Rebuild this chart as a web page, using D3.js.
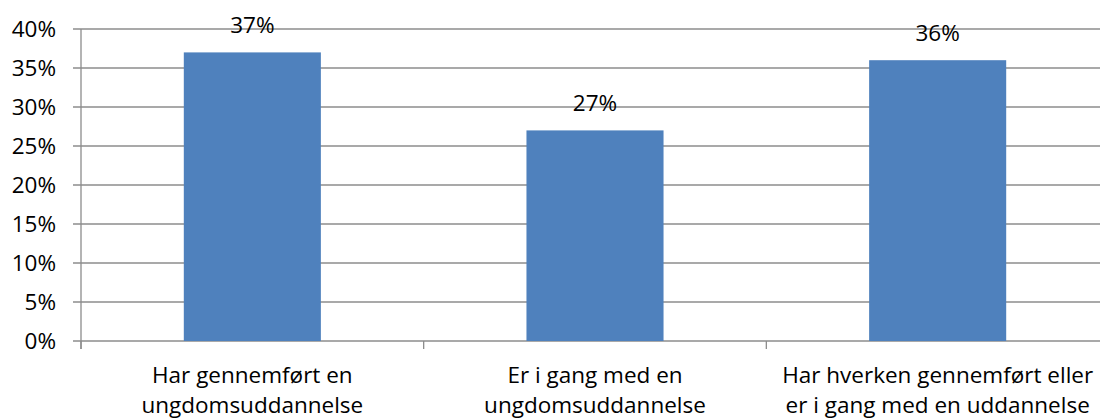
<!DOCTYPE html>
<html>
<head>
<meta charset="utf-8">
<script src="https://cdn.jsdelivr.net/npm/d3@7"></script>
<style>
body{margin:0;background:#fff;}
svg text{font-family:"Open Sans",sans-serif;fill:#000;}
</style>
</head>
<body>
<script>
//data
const categories=[["Har gennemført en","ungdomsuddannelse"],["Er i gang med en","ungdomsuddannelse"],["Har hverken gennemført eller","er i gang med en uddannelse"]]
const values=[0.37,0.27,0.36]
const yTicks=[0,0.05,0.1,0.15,0.2,0.25,0.3,0.35,0.4]

const w=1100, h=418
const mLeft=81, mRight=1109, mTop=29, mBottom=341
const fs="22.5px"

const svg=d3.select("body").append("svg").attr("width",w).attr("height",h)

const x=d3.scaleBand().domain(d3.range(categories.length)).range([mLeft,mRight]).paddingInner(0.6).paddingOuter(0.3)
const y=d3.scaleLinear().domain([0,0.4]).range([mBottom,mTop])
const fmt=d3.format(".0%")

//gridlines
svg.append("g").selectAll("line").data(yTicks).enter().append("line")
  .attr("x1",mLeft-8).attr("x2",w).attr("y1",d=>y(d)).attr("y2",d=>y(d))
  .attr("stroke","#8c8c8c").attr("stroke-width",1.3)

//y labels
svg.append("g").selectAll("text").data(yTicks).enter().append("text")
  .attr("x",56).attr("y",d=>y(d)+7.5).attr("text-anchor","end")
  .style("font-size",fs).text(d=>fmt(d))

//bars
svg.append("g").selectAll("rect").data(values).enter().append("rect")
  .attr("x",(d,i)=>x(i)).attr("width",x.bandwidth())
  .attr("y",d=>y(d)).attr("height",d=>mBottom-y(d))
  .attr("fill","#4f81bd")

//value labels
svg.append("g").selectAll("text").data(values).enter().append("text")
  .attr("x",(d,i)=>x(i)+x.bandwidth()/2).attr("y",d=>y(d)-19)
  .attr("text-anchor","middle").style("font-size",fs).text(d=>fmt(d))

//axes lines
svg.append("line").attr("x1",mLeft).attr("x2",mLeft).attr("y1",mTop).attr("y2",mBottom+8)
  .attr("stroke","#8c8c8c").attr("stroke-width",1.3)
const step=(mRight-mLeft)/categories.length
svg.append("g").selectAll("line").data(d3.range(categories.length+1)).enter().append("line")
  .attr("x1",i=>mLeft+i*step).attr("x2",i=>mLeft+i*step).attr("y1",mBottom).attr("y2",mBottom+8)
  .attr("stroke","#8c8c8c").attr("stroke-width",1.3)

//category labels
const cat=svg.append("g").selectAll("text").data(categories).enter().append("text")
  .attr("text-anchor","middle").style("font-size",fs)
cat.selectAll("tspan").data((d,i)=>d.map(t=>({t,i}))).enter().append("tspan")
  .attr("x",d=>x(d.i)+x.bandwidth()/2).attr("y",(d,j)=>383+j*30).text(d=>d.t)
</script>
</body>
</html>
